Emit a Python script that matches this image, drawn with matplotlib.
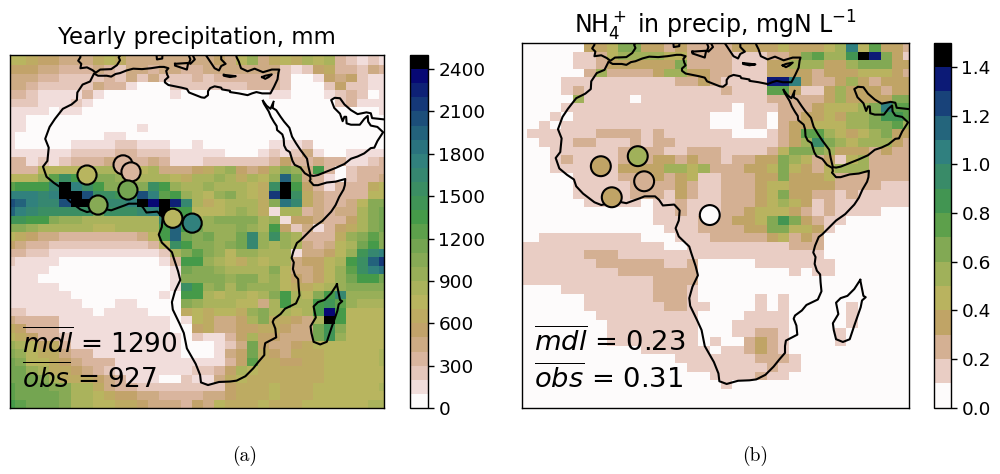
import numpy as np
import matplotlib
matplotlib.use("Agg")
import matplotlib.pyplot as plt
from matplotlib.colors import BoundaryNorm

W, H = 1000, 474

# precipitation, 100 mm classes in base 36 (one character per 2.5 deg cell), north to south
precip_rows = """
77655 44467 64444 44445 47946 76878 32121
55544 33343 24434 43344 44444 21256 33243
44433 22223 24242 22323 33333 20015 45211
44322 22243 31000 22222 22333 20002 52211
33211 11310 00000 10000 00001 10001 23201
22211 12100 00000 00000 00000 00000 23111
11110 11000 00000 00000 00000 00000 00001
11000 00000 00000 00000 00000 00000 00000
11000 00000 00100 00000 00000 00000 00000
10000 00001 10000 00000 00000 00000 00000
10000 01111 22111 00100 00001 11200 00000
11111 12222 33222 11111 00012 12410 01111
33121 23334 43343 11122 22223 53343 31123
33377 77788 76784 44568 95458 a94d3 02333
7779c fdaaa 98888 76889 86879 jb431 02334
cdddg ohfda aaafd 98898 8876f od531 33367
hhhgh ookff eekhc d9879 a876l of643 33377
kjhgg koogg ghono mg867 8886a ig643 347aa
jhgff fffbf ffgho dd777 89861 88343 448ab
eedda 99888 8888g hh89a aaa89 15543 358ab
aa988 88877 8888d jdb99 9a98d 52413 568ab
76544 33333 3347d jbab9 9bg9f 98333 69aca
54332 22222 22237 fdaa9 abg98 98434 78bda
33221 11111 11112 8aca9 79988 81445 79egh
21111 00000 00001 3dd98 76878 84557 8dfjl
11110 00000 00000 1baa9 8888a 74457 9cfhi
11100 00000 00000 1aaaa 9aa89 75457 9bddb
11111 00000 00000 1fd9a 8a999 76678 9aaaa
11111 10000 00001 0dd87 8878a d87ad g9999
11111 11000 11000 0a988 87748 d88de c9888
22111 11101 11100 06767 769a8 878dn d7777
43333 11111 11111 01764 458a6 6548o d7777
65333 11111 11111 00564 45566 544be a7777
76533 21111 11111 10211 35855 444be 97777
98756 31111 11111 10001 24b54 45677 77777
a9766 43311 11111 10001 45b65 46667 77778
ba776 54333 11111 11111 35c66 55667 77778
bb986 65432 11111 11223 58766 66667 77777
bbba8 66654 31110 02114 67666 66667 77777
cbbba a8864 33222 22222 56667 66677 77778
cbbbb a8876 55443 33344 56667 66677 77777
dcbbb a8877 66544 43547 66676 66777 77788
""".strip().splitlines()

# NH4+ in precipitation, 0.1 mgN/L classes
nh4_rows = """
00000 03346 63323 22223 33343 33 45a 47332
00000 11245 55544 22221 11223 67558 ed631
00000 11233 33336 22221 11335 55335 66633
00000 02522 22355 33221 11333 32333 44432
00001 11111 11112 23211 11dda 32235 32333
00001 21111 11111 11121 11773 11353 33233
00000 51111 01111 11111 11222 22353 33366
00001 11111 11111 11110 11122 23444 56a77
00010 11111 11111 11000 11022 33435 56887
00101 11111 11111 11000 11023 34445 56675
01111 11222 21211 11110 00123 77543 45633
00111 22111 21221 11111 11123 59654 55532
00011 11112 22211 22211 11246 66533 32322
00012 11112 22332 32212 23365 42314 52222
00011 11313 33355 45222 33464 32455 52222
00000 11112 22323 41122 23363 33422 22222
00000 11111 22223 21122 23443 33322 22111
00000 11111 22213 21122 23463 32212 11111
00000 01111 10112 11122 23454 31211 11111
00000 00000 00112 11122 34443 21211 11000
00000 00000 00111 12223 34686 32110 00000
00000 00000 00011 12222 33664 43100 00000
00111 11111 10001 11222 22342 32000 00000
11111 11111 11100 11111 11112 22000 00000
11111 12221 11111 11111 11111 11000 00000
11111 11222 22211 20000 01111 11100 00000
11111 11112 22222 20000 00001 01100 00000
11111 11111 11222 20000 00000 00000 00000
00001 11111 11222 10000 00000 00000 00000
00000 01111 11222 10000 01010 00000 00000
00000 01111 11122 11000 01010 00001 00000
00000 00111 11111 10000 11110 00001 00000
00000 00011 11111 10001 11110 00001 00000
00000 00011 11111 10001 12210 00010 00000
00000 00011 11111 10100 23210 00010 00000
00000 00000 01111 11011 23210 00000 00000
00000 00000 00001 11111 12221 00000 00000
00000 00000 00000 11111 11211 00000 00000
00000 00000 00000 00111 12110 00000 00000
00000 00000 00000 00010 00000 00000 00000
00000 00000 00000 00000 00000 00000 00000
00000 00000 00000 00000 00000 00000 00000
""".strip().splitlines()

# observation sites
precip_site_lon = [-7.5, 0.7, 2.5, 1.8, -5.0, 12.0, 16.4]
precip_site_lat = [12.8, 15.1, 13.5, 9.4, 6.0, 3.0, 1.9]
precip_site_val = [750, 350, 350, 1150, 1050, 750, 1750]
nh4_site_lon = [-7.6, 0.5, 1.9, -5.2, 16.3]
nh4_site_lat = [12.9, 15.1, 9.6, 6.1, 2.2]
nh4_site_val = [0.35, 0.55, 0.25, 0.35, 0.05]

# coastlines, (lon, lat)
africa = [(32.5,29.6),(32.7,29),(33.2,28.2),(33.8,27.2),(34.3,26),(35,24.8),(35.6,23.9),(35.7,23),(36.9,22),(37.2,21),
 (37.3,19.5),(37.8,18.5),(38.6,18),(39.2,16),(39.7,15.1),(41,14.5),(42,13.2),(43.2,12.5),(43.3,11.8),(43.1,11.5),
 (44,10.5),(45,10.5),(47,11.1),(49,11.3),(51.2,11.9),(51.1,10.5),(50.8,9.5),(49.8,7.8),(49,6),(48,4.5),(46,2.4),
 (44,1),(42.5,-0.5),(41,-2),(40.2,-2.6),(39.4,-4.5),(39,-6),(39.5,-7),(39.3,-8.5),(39.8,-10),(40.5,-10.8),(40.6,-12.5),
 (40.8,-14.5),(40,-16.3),(37.5,-17.5),(36.5,-18.7),(35,-19.8),(34.7,-20.5),(35.3,-22),(35.5,-24),(33,-25.3),(32.8,-26.5),
 (32.8,-28),(31.5,-29.5),(30.3,-31),(28.5,-32.8),(26.5,-33.8),(25,-34),(22.5,-34.1),(20,-34.8),(18.4,-34.2),(18.2,-32.5),
 (17.2,-30),(16.4,-28.6),(15.2,-26.5),(14.5,-23),(13.5,-20.8),(12,-17.7),(11.8,-16),(12.5,-13.5),(13.7,-11),(13.2,-9),
 (12.2,-6),(11.8,-4.7),(9.5,-2.5),(8.8,-0.7),(9.5,1),(9.7,3.2),(8.5,4.5),(6,4.3),(5.2,5.5),(4.3,6.3),(2,6.3),(1,5.9),
 (-2,4.8),(-4,5.2),(-7.5,4.4),(-9,5),(-11.5,6.9),(-13,8.5),(-13.5,10),(-15,11),(-16.7,12.4),(-17.5,14.7),(-16.5,16),
 (-16.2,19),(-17,21),(-16,23.7),(-14.8,25.5),(-13,27.8),(-11,28.8),(-9.8,29.8),(-9.7,31.5),(-8.5,33.3),(-6.8,34),
 (-5.9,35.8),(-5,35.3),(-3,35.3),(-2,35.1),(-1,35.7),(0,35.9),(1.5,36.5),(3,36.9),(5,36.8),(7,37),(9,37.3),(10,37.3),
 (11,37),(10.5,36.4),(10.7,35.6),(11,35),(10.2,34.3),(10.2,33.8),(11,33.2),(12.5,32.9),(14,32.6),(15.2,32.3),(15.7,31.5),
 (17,31),(18.5,30.4),(19.2,30.3),(20,30.9),(20,31.8),(20.5,32.5),(21.5,32.9),(23,32.6),(23.2,32.2),(25,31.9),(25,31.6),
 (27,31.3),(29,30.9),(30,31.3),(31,31.6),(32.3,31.3),(34.2,31.3),(35,32.8),(35.8,34.5),(36,36),(36.2,36.7),(34.5,36.7),
 (32.5,36.1),(30.6,36.9),(29,36.3),(27.5,37),(27,38.5),(26.5,39.5),(26.2,41)]
sinai = [(32.5,29.6),(33.3,28.5),(34.2,27.8),(34.9,29.4)]
arabia = [(34.8,28.9),(34.7,28),(35.5,27.5),(36.5,26),(37.3,24.9),(38.5,23.5),(39.1,21.5),(40,20),(41,18.5),(42.5,16.5),
 (42.8,14.8),(43.3,12.7),(44,12.6),(45,12.8),(47,13.6),(49,14.4),(51,15.3),(52.5,16.5),(54,17),(55.5,17.7),(57,18.9),
 (57.8,19),(58.5,20.5),(59.8,22.5),(58.5,23.7),(57,24),(56.4,24.9),(56.3,26.2),(55.5,25.5),(54.5,24.2),(52.5,24.2),
 (51.5,24.5),(51.4,26),(51,26),(50.6,25),(50,26.7),(48.7,28),(48,29.8),(48.8,30.3),(50,30.2),(51,28.8),(52.5,27.5),
 (54,26.6),(56,27),(57,26.8),(57.3,25.7),(61,25.3)]
iberia = [(-9,41),(-9,39.5),(-9.5,38.7),(-8.8,38),(-9,37),(-7.5,37.2),(-6.3,36.6),(-5.5,36),(-4.5,36.7),(-2,36.8),
 (-0.7,37.7),(0,38.8),(-0.3,39.5),(0.8,40.8),(1.2,41)]
italy = [(15.5,41),(15.6,40),(16,39),(15.7,38.2),(16,38),(16.5,38.5),(17,39),(16.6,39.8),(17,40.5),(18.4,40),(18,41)]
greece = [(19.4,41),(19.5,40),(20.5,38.5),(21.5,37),(22.5,36.5),(23,37.5),(24,38),(23,39),(23,40.5),(24,41)]
sicily = [(12.5,38),(15.5,38.2),(15.2,36.7),(12.5,37.6),(12.5,38)]
sardinia = [(8.2,41),(8.4,39),(9.6,39.2),(9.7,41)]
crete = [(23.6,35.5),(24.5,35.4),(26.3,35.2),(25,35),(23.6,35.3),(23.6,35.5)]
cyprus = [(32.3,35),(33,35.3),(34.5,35.6),(33.8,35),(33,34.6),(32.3,35)]
madagascar = [(49.3,-12),(50,-15.5),(50.5,-15.8),(49.7,-16.5),(49.4,-18),(48,-22),(47,-25),(45.5,-25.6),(44,-25),
 (43.5,-23),(43.3,-21.5),(44.5,-19.5),(44,-17),(45,-16),(46.5,-15.5),(48,-14),(49.3,-12)]
coasts = [africa, sinai, arabia, iberia, italy, greece, sicily, sardinia, crete, cyprus, madagascar]

plt.rcParams["mathtext.fontset"] = "dejavusans"

def parse(rows, step):
    out = []
    for row in rows:
        row = row.replace(" ", "").ljust(35, "0")[:35]
        out.append([(int(c, 36) + 0.5) * step for c in row])
    return np.array(out)

lon_edges = -26.25 + 2.5 * np.arange(36)

def lat_edges(offset):
    e = 37.89 + offset + 1.8947 - 1.8947 * np.arange(43)
    e[0] = 41
    e[-1] = -41
    return e

def add_ax(fig, x0, x1, y0, y1):
    return fig.add_axes([x0 / W, 1 - y1 / H, (x1 - x0) / W, (y1 - y0) / H])

def panel(fig, box, cbox, rows, step, n, ticks, tlabels, site, offset, title, pad, mdl, obs, ty, scale):
    ax = add_ax(fig, *box)
    levels = np.arange(n + 1) * step
    cmap = plt.get_cmap("gist_earth_r", n)
    norm = BoundaryNorm(levels, n)
    m = ax.pcolormesh(lon_edges, lat_edges(offset), parse(rows, step), cmap=cmap, norm=norm,
                      antialiased=False, linewidth=0)
    for c in coasts:
        a = np.array(c)
        ax.plot(a[:, 0], a[:, 1], color="black", lw=1.5, solid_joinstyle="round")
    ax.scatter(site[0], site[1], c=site[2], cmap=cmap, norm=norm, s=190 * scale ** 2, edgecolors="black",
               linewidths=1.5, zorder=5)
    ax.set_xlim(-25, 60)
    ax.set_ylim(-40, 40)
    ax.set_xticks([])
    ax.set_yticks([])
    for s in ax.spines.values():
        s.set_linewidth(1.0)
    ax.set_title(title, fontsize=16.4 * scale, pad=pad)
    ax.text(0.033, ty[0], r"$\overline{mdl}$ = " + mdl, transform=ax.transAxes, fontsize=19 * scale, va="baseline")
    ax.text(0.033, ty[1], r"$\overline{obs}$ = " + obs, transform=ax.transAxes, fontsize=19 * scale, va="baseline")
    cax = add_ax(fig, *cbox)
    cb = fig.colorbar(m, cax=cax, ticks=ticks, spacing="proportional")
    cb.ax.set_yticklabels(tlabels)
    cb.minorticks_off()
    cb.ax.tick_params(labelsize=13.3, length=4, width=1)
    cb.outline.set_linewidth(1)
    return ax

fig = plt.figure(figsize=(W / 100, H / 100), dpi=100)

p_ticks = list(range(0, 2401, 300))
panel(fig, (10, 384, 55, 408), (410, 428, 55, 408), precip_rows, 100, 25, p_ticks, [str(t) for t in p_ticks],
      (precip_site_lon, precip_site_lat, precip_site_val), -0.2,
      "Yearly precipitation, mm", 8, "1290", "927", (0.155, 0.058), 1.0)

n_ticks = [0.0, 0.2, 0.4, 0.6, 0.8, 1.0, 1.2, 1.4]
panel(fig, (521.5, 909, 42.5, 407.7), (934, 951, 42.5, 407.7), nh4_rows, 0.1, 15, n_ticks, [f"{t:.1f}" for t in n_ticks],
      (nh4_site_lon, nh4_site_lat, nh4_site_val), 0.13,
      r"NH$_4^+$ in precip, mgN L$^{-1}$", 6, "0.23", "0.31", (0.155, 0.055), 1.04)

fig.text(245 / W, 1 - 456 / H, "(a)", ha="center", va="center", fontsize=14, family="cmr10")
fig.text(755 / W, 1 - 456 / H, "(b)", ha="center", va="center", fontsize=14, family="cmr10")

fig.savefig("out.png", dpi=100)
